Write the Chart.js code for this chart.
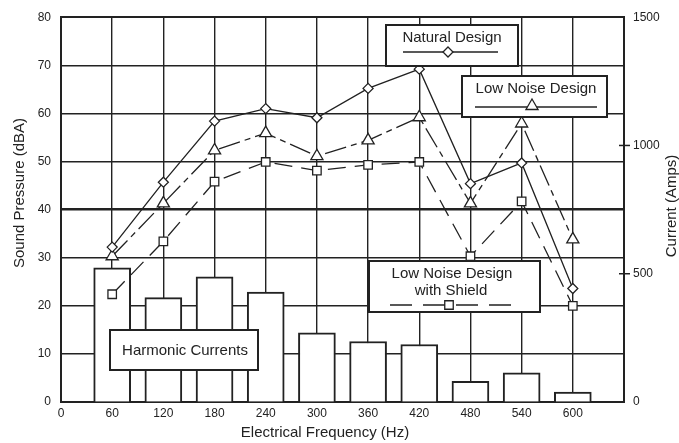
<!DOCTYPE html>
<html>
<head>
<meta charset="utf-8">
<script src="https://cdn.jsdelivr.net/npm/chart.js@4.4.1/dist/chart.umd.min.js"></script>
<style>
  html, body { margin: 0; padding: 0; background: #fff; }
  #wrap { width: 679px; height: 443px; }
</style>
</head>
<body>
<div id="wrap"><canvas id="chart" width="679" height="443"></canvas></div>
<script>
// values
const freqs = [60, 120, 180, 240, 300, 360, 420, 480, 540, 600];
const naturalDesign = [32.2, 45.7, 58.4, 61.0, 59.1, 65.2, 69.2, 45.4, 49.7, 23.6];
const lowNoise = [30.3, 41.3, 52.3, 55.9, 51.1, 54.4, 59.2, 41.3, 57.9, 33.8];
const lowNoiseShield = [22.4, 33.4, 45.8, 49.9, 48.1, 49.3, 49.9, 30.3, 41.7, 20.0];
const harmonicAmps = [523, 407, 488, 428, 270, 236, 224, 81, 114, 39];

const INK = '#222';
const FONT = '"Liberation Sans", Arial, Helvetica, sans-serif';

const pts = arr => freqs.map((f, i) => ({ x: f, y: arr[i] }));

function marker(ctx, style, x, y) {
    ctx.save();
    ctx.beginPath();
    if (style === 'diamond') {
        ctx.moveTo(x, y - 5); ctx.lineTo(x + 5, y); ctx.lineTo(x, y + 5); ctx.lineTo(x - 5, y);
    } else if (style === 'triangle') {
        ctx.moveTo(x, y - 7); ctx.lineTo(x + 6.06, y + 3.5); ctx.lineTo(x - 6.06, y + 3.5);
    } else {
        ctx.rect(x - 4.25, y - 4.25, 8.5, 8.5);
    }
    ctx.closePath();
    ctx.fillStyle = '#fff';
    ctx.fill();
    ctx.lineWidth = 1.3;
    ctx.strokeStyle = INK;
    ctx.setLineDash([]);
    ctx.stroke();
    ctx.restore();
}

function box(ctx, x, y, w, h) {
    ctx.fillStyle = '#fff';
    ctx.fillRect(x, y, w, h);
    ctx.lineWidth = 2;
    ctx.strokeStyle = INK;
    ctx.strokeRect(x, y, w, h);
}

// legend boxes, axis titles, right axis cross ticks
const annotations = {
    id: 'annotations',
    afterDatasetsDraw(chart) {
        const ctx = chart.ctx;
        const area = chart.chartArea;
        const y1 = chart.scales.y1;
        ctx.save();

        ctx.strokeStyle = INK;
        ctx.lineWidth = 1.5;
        [500, 1000].forEach(v => {
            const py = y1.getPixelForValue(v);
            ctx.beginPath();
            ctx.moveTo(area.right - 5, py);
            ctx.lineTo(area.right + 6, py);
            ctx.stroke();
        });

        ctx.font = '15px ' + FONT;
        ctx.textAlign = 'center';
        ctx.textBaseline = 'alphabetic';

        box(ctx, 386, 25, 132, 41);
        ctx.fillStyle = INK;
        ctx.fillText('Natural Design', 452, 42);
        ctx.lineWidth = 1.3;
        ctx.beginPath(); ctx.moveTo(403, 52); ctx.lineTo(498, 52); ctx.stroke();
        marker(ctx, 'diamond', 448, 52);

        box(ctx, 462, 76, 145, 41);
        ctx.fillStyle = INK;
        ctx.fillText('Low Noise Design', 536, 93);
        ctx.lineWidth = 1.3;
        ctx.beginPath(); ctx.moveTo(475, 107); ctx.lineTo(597, 107); ctx.stroke();
        marker(ctx, 'triangle', 532, 106);

        box(ctx, 369, 261, 171, 51);
        ctx.fillStyle = INK;
        ctx.fillText('Low Noise Design', 452, 278);
        ctx.fillText('with Shield', 451, 295);
        ctx.lineWidth = 1.3;
        ctx.setLineDash([22, 11]);
        ctx.beginPath(); ctx.moveTo(390, 305); ctx.lineTo(513, 305); ctx.stroke();
        ctx.setLineDash([]);
        marker(ctx, 'square', 449, 305);

        box(ctx, 110, 330, 148, 40);
        ctx.fillStyle = INK;
        ctx.fillText('Harmonic Currents', 185, 355);

        // axis titles
        ctx.font = '15px ' + FONT;
        ctx.fillStyle = INK;
        ctx.fillText('Electrical Frequency (Hz)', 325, 437);

        ctx.save();
        ctx.translate(24, 193);
        ctx.rotate(-Math.PI / 2);
        ctx.fillText('Sound Pressure (dBA)', 0, 0);
        ctx.restore();

        ctx.save();
        ctx.translate(676, 206);
        ctx.rotate(-Math.PI / 2);
        ctx.fillText('Current (Amps)', 0, 0);
        ctx.restore();

        ctx.restore();
    }
};

const ctxChart = document.getElementById('chart').getContext('2d');
new Chart(ctxChart, {
    data: {
        datasets: [
            {
                type: 'line',
                label: 'Natural Design',
                data: pts(naturalDesign),
                borderColor: INK,
                borderWidth: 1.3,
                pointStyle: 'rectRot',
                pointRadius: 5,
                pointBackgroundColor: '#fff',
                pointBorderColor: INK,
                pointBorderWidth: 1.3,
                yAxisID: 'y'
            },
            {
                type: 'line',
                label: 'Low Noise Design',
                data: pts(lowNoise),
                borderColor: INK,
                borderWidth: 1.3,
                borderDash: [22, 5, 6, 5],
                pointStyle: 'triangle',
                pointRadius: 7,
                pointBackgroundColor: '#fff',
                pointBorderColor: INK,
                pointBorderWidth: 1.3,
                yAxisID: 'y'
            },
            {
                type: 'line',
                label: 'Low Noise Design with Shield',
                data: pts(lowNoiseShield),
                borderColor: INK,
                borderWidth: 1.3,
                borderDash: [18, 9],
                pointStyle: 'rect',
                pointRadius: 6,
                pointBackgroundColor: '#fff',
                pointBorderColor: INK,
                pointBorderWidth: 1.3,
                yAxisID: 'y'
            },
            {
                type: 'bar',
                label: 'Harmonic Currents',
                data: pts(harmonicAmps),
                backgroundColor: '#fff',
                borderColor: INK,
                borderWidth: 2,
                barThickness: 37,
                yAxisID: 'y1'
            }
        ]
    },
    options: {
        responsive: false,
        animation: false,
        layout: { padding: { top: 15, left: 0, right: 0, bottom: 0 } },
        plugins: {
            legend: { display: false },
            tooltip: { enabled: false }
        },
        scales: {
            x: {
                type: 'linear',
                min: 0,
                max: 660,
                offset: false,
                ticks: {
                    stepSize: 60,
                    autoSkip: false,
                    maxRotation: 0,
                    padding: 4,
                    color: INK,
                    font: { size: 12, family: FONT },
                    callback: v => (v === 660 ? '' : String(v))
                },
                grid: {
                    color: INK,
                    offset: false,
                    drawTicks: false,
                    lineWidth: c => (c.tick && c.tick.value === 660 ? 2 : 1.4)
                },
                border: { color: INK, width: 2 },
                afterFit: s => { s.height = 41; }
            },
            y: {
                position: 'left',
                min: 0,
                max: 80,
                ticks: {
                    stepSize: 10,
                    padding: 10,
                    color: INK,
                    font: { size: 12, family: FONT }
                },
                grid: {
                    color: INK,
                    drawTicks: false,
                    lineWidth: c => {
                        if (!c.tick) return 1.4;
                        if (c.tick.value === 40) return 2.6;
                        if (c.tick.value === 80) return 2;
                        return 1.4;
                    }
                },
                border: { color: INK, width: 2 },
                afterFit: s => { s.width = 61; }
            },
            y1: {
                position: 'right',
                min: 0,
                max: 1500,
                ticks: {
                    stepSize: 500,
                    padding: 9,
                    color: INK,
                    font: { size: 12, family: FONT },
                    callback: v => String(v)
                },
                grid: { drawOnChartArea: false, drawTicks: false },
                border: { color: INK, width: 2 },
                afterFit: s => { s.width = 55; }
            }
        }
    },
    plugins: [annotations]
});
</script>
</body>
</html>
